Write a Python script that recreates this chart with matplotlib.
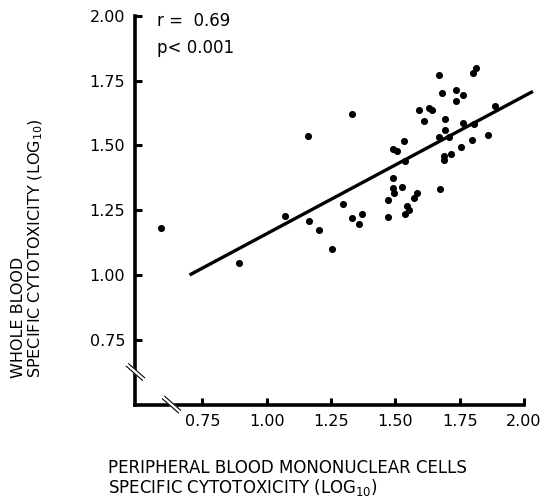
import matplotlib
matplotlib.use("Agg")
import matplotlib.pyplot as plt
import numpy as np

# peripheral blood mononuclear cells (x) vs whole blood (y), log10 specific cytotoxicity
pbmc = [0.589, 0.893, 1.073, 1.165, 1.161, 1.204, 1.253, 1.296, 1.332, 1.332,
        1.357, 1.370, 1.472, 1.473, 1.491, 1.491, 1.494, 1.526, 1.492, 1.508,
        1.532, 1.536, 1.537, 1.545, 1.555, 1.573, 1.584, 1.593, 1.612, 1.630,
        1.643, 1.670, 1.670, 1.674, 1.683, 1.688, 1.689, 1.692, 1.694, 1.707,
        1.718, 1.736, 1.735, 1.756, 1.763, 1.763, 1.800, 1.812, 1.799, 1.807,
        1.860, 1.888]
whole = [1.182, 1.048, 1.227, 1.209, 1.538, 1.175, 1.100, 1.273, 1.620, 1.221,
         1.198, 1.235, 1.222, 1.290, 1.375, 1.336, 1.317, 1.341, 1.485, 1.478,
         1.516, 1.439, 1.235, 1.267, 1.251, 1.296, 1.317, 1.637, 1.593, 1.644,
         1.636, 1.772, 1.533, 1.333, 1.703, 1.460, 1.443, 1.558, 1.603, 1.534,
         1.466, 1.716, 1.672, 1.495, 1.694, 1.586, 1.778, 1.799, 1.521, 1.582,
         1.539, 1.653]

# regression line end points
fit_x = [0.70, 2.035]
fit_y = [1.00, 1.709]

ticks = [0.75, 1.00, 1.25, 1.50, 1.75, 2.00]
tick_labels = ["0.75", "1.00", "1.25", "1.50", "1.75", "2.00"]

fig = plt.figure(figsize=(5.47, 5.04), dpi=100)
ax = fig.add_axes([0.2477, 0.1974, 0.7102, 0.7709])

ax.scatter(pbmc, whole, s=26, color="black", zorder=3, linewidths=0)
ax.plot(fit_x, fit_y, color="black", lw=2.4, clip_on=False, solid_capstyle="butt")

ax.set_xlim(0.49, 2.0)
ax.set_ylim(0.5, 2.0)
ax.set_xticks(ticks)
ax.set_xticklabels(tick_labels)
ax.set_yticks(ticks)
ax.set_yticklabels(tick_labels)

for side in ["top", "right"]:
    ax.spines[side].set_visible(False)
for side in ["left", "bottom"]:
    ax.spines[side].set_linewidth(2.6)

ax.tick_params(axis="both", direction="in", length=5, width=2.2, labelsize=11.5)
ax.tick_params(axis="y", pad=7.5)
ax.tick_params(axis="x", pad=7)


def break_mark(xc, yc):
    # little "\\" marks where the axis is broken, in axes fraction (1 px ~ 1/388.5)
    px = 1 / 388.5
    dx, dy = 8 * px, 7 * px
    n = np.hypot(dx, dy)
    ox, oy = dy / n * 1.7 * px, dx / n * 1.7 * px
    ax.plot([xc - dx, xc + dx], [yc + dy, yc - dy], color="white", lw=3.2,
            transform=ax.transAxes, clip_on=False, zorder=5)
    for s in (-1, 1):
        ax.plot([xc - dx + s * ox, xc + dx + s * ox], [yc + dy + s * oy, yc - dy + s * oy],
                color="black", lw=0.8, transform=ax.transAxes, clip_on=False, zorder=6)


break_mark(0.0, 0.0837)
break_mark(0.0927, 0.0)

fig.text(0.287, 0.9583, "r =  0.69", fontsize=12, va="center", ha="left")
fig.text(0.287, 0.9048, "p< 0.001", fontsize=12, va="center", ha="left")

fig.text(0.1974, 0.0893, "PERIPHERAL BLOOD MONONUCLEAR CELLS\nSPECIFIC CYTOTOXICITY (LOG$_{10}$)",
         fontsize=12, va="top", ha="left", linespacing=1.0)
fig.text(0.0512, 0.25, "WHOLE BLOOD\nSPECIFIC CYTOTOXICITY (LOG$_{10}$)",
         fontsize=11.5, rotation=90, va="bottom", ha="center", multialignment="left",
         linespacing=1.05)

fig.savefig("out.png", dpi=100)
